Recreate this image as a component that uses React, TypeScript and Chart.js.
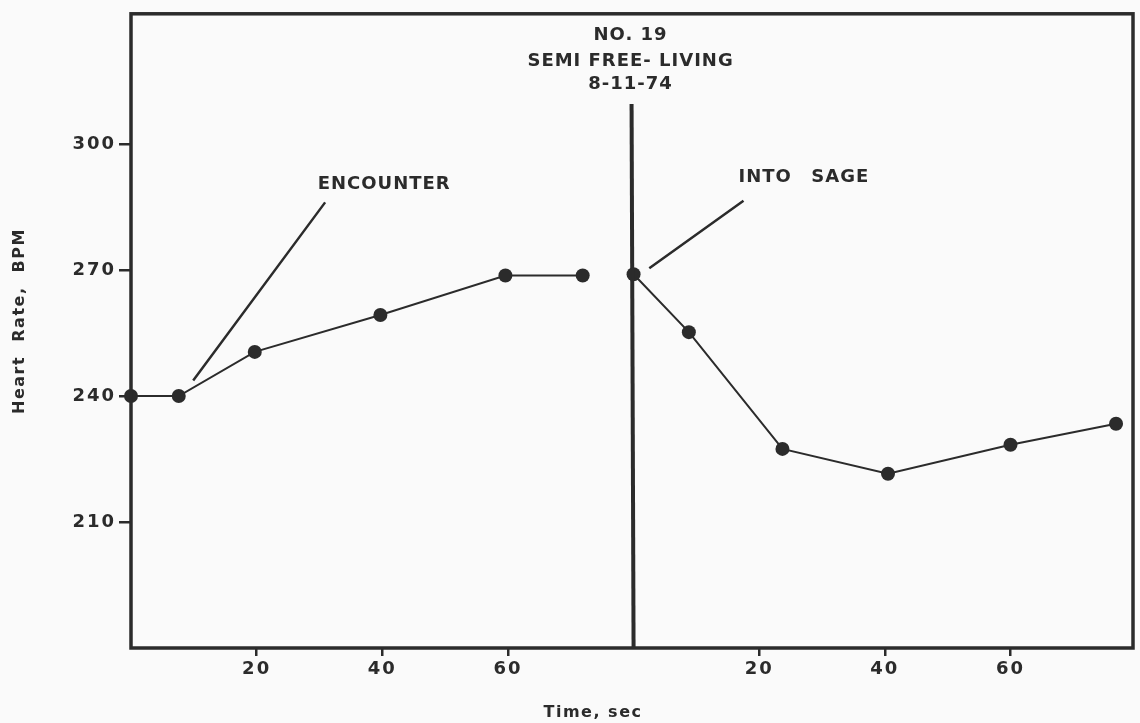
import React, { useEffect, useRef } from "react";
import { Chart, registerables } from "chart.js";

Chart.register(...registerables);

// ---- data ----
const LEFT_TIME = [0, 7.6, 19.7, 39.7, 59.6, 71.9];
const LEFT_BPM = [240, 240, 250.5, 259.3, 268.7, 268.7];
const RIGHT_TIME = [0, 8.8, 23.7, 40.5, 60, 76.8];
const RIGHT_BPM = [269, 255.2, 227.4, 221.5, 228.4, 233.4];
const PANEL_OFFSET = 80; // second panel starts here on the shared time axis
const X_MAX = 159.5;
const TIME_TICKS = [20, 40, 60];
const BPM_TICKS = [210, 240, 270, 300];
const Y_MIN = 180;
const Y_MAX = 331;
const TITLE_LINES = ["NO. 19", "SEMI FREE- LIVING", "8-11-74"];

const INK = "#2b2b2b";
const FONT = "DejaVu Sans";

export default function App() {
  const ref = useRef<HTMLCanvasElement | null>(null);

  useEffect(() => {
    document.body.style.margin = "0";
    const canvas = ref.current;
    if (!canvas) return;

    const leftPts = LEFT_TIME.map((t, i) => ({ x: t, y: LEFT_BPM[i] }));
    const rightPts = RIGHT_TIME.map((t, i) => ({ x: t + PANEL_OFFSET, y: RIGHT_BPM[i] }));

    const overlay = {
      id: "overlay",
      beforeDraw(chart: any) {
        const ctx = chart.ctx;
        ctx.save();
        ctx.fillStyle = "#fafafa";
        ctx.fillRect(0, 0, chart.width, chart.height);
        ctx.restore();
        (ctx as any).letterSpacing = "2px";
      },
      afterDraw(chart: any) {
        const ctx = chart.ctx;
        const xs = chart.scales.x;
        const ys = chart.scales.y;
        const a = chart.chartArea;
        const X = (v: number) => xs.getPixelForValue(v);
        const Y = (v: number) => ys.getPixelForValue(v);
        ctx.save();
        ctx.strokeStyle = INK;
        ctx.fillStyle = INK;
        // frame
        ctx.lineWidth = 3.5;
        ctx.strokeRect(a.left, a.top, a.right - a.left, a.bottom - a.top);
        // divider
        ctx.lineWidth = 4;
        ctx.beginPath();
        ctx.moveTo(X(PANEL_OFFSET) - 2, Y(309.5));
        ctx.lineTo(X(PANEL_OFFSET), a.bottom);
        ctx.stroke();
        // leader lines
        ctx.lineWidth = 2.5;
        ctx.beginPath();
        ctx.moveTo(X(9.9), Y(243.7));
        ctx.lineTo(X(30.9), Y(286.1));
        ctx.moveTo(X(PANEL_OFFSET + 2.5), Y(270.4));
        ctx.lineTo(X(PANEL_OFFSET + 17.5), Y(286.5));
        ctx.stroke();
        // texts
        ctx.font = `bold 18px "${FONT}"`;
        (ctx as any).letterSpacing = "1px";
        ctx.textBaseline = "middle";
        ctx.textAlign = "center";
        ctx.fillText("ENCOUNTER", X(40.3), Y(290.5));
        ctx.textAlign = "left";
        ctx.fillText("INTO", X(PANEL_OFFSET + 16.7), Y(292));
        ctx.fillText("SAGE", X(PANEL_OFFSET + 28.3), Y(292));
        ctx.textAlign = "center";
        const titleY = [325.8, 319.6, 314.1];
        TITLE_LINES.forEach((s, i) => ctx.fillText(s, X(PANEL_OFFSET) - 3, Y(titleY[i])));
        // axis titles
        ctx.font = `bold 16px "${FONT}"`;
        (ctx as any).letterSpacing = "1.5px";
        ctx.fillText("Time, sec", 593, 713);
        ctx.translate(20, 321);
        ctx.rotate(-Math.PI / 2);
        ctx.fillText("Heart  Rate,  BPM", 0, 0);
        ctx.restore();
      },
    };

    const tickFont = { family: FONT, size: 18, weight: "bold" as const };

    const chart = new Chart(canvas, {
      type: "scatter",
      data: {
        datasets: [
          {
            data: leftPts,
            showLine: true,
            borderColor: INK,
            backgroundColor: INK,
            borderWidth: 2,
            pointRadius: 7,
            pointBorderWidth: 0,
            clip: false as any,
          },
          {
            data: rightPts,
            showLine: true,
            borderColor: INK,
            backgroundColor: INK,
            borderWidth: 2,
            pointRadius: 7,
            pointBorderWidth: 0,
            clip: false as any,
          },
        ],
      },
      options: {
        animation: false,
        responsive: false,
        layout: { padding: { top: 13, right: 6, left: 0, bottom: 0 } },
        plugins: { legend: { display: false }, tooltip: { enabled: false } },
        scales: {
          x: {
            type: "linear",
            min: 0,
            max: X_MAX,
            afterBuildTicks: (s: any) => {
              s.ticks = [
                ...TIME_TICKS.map((v) => ({ value: v })),
                ...TIME_TICKS.map((v) => ({ value: v + PANEL_OFFSET })),
              ];
            },
            afterFit: (s: any) => {
              s.height = 75;
            },
            ticks: {
              autoSkip: false,
              maxRotation: 0,
              padding: 3,
              color: INK,
              font: tickFont,
              callback: (v: any) => String(v > PANEL_OFFSET ? v - PANEL_OFFSET : v),
            },
            grid: {
              drawOnChartArea: false,
              drawTicks: true,
              tickLength: 8,
              color: INK,
              lineWidth: 2.5,
            },
            border: { display: false },
          },
          y: {
            type: "linear",
            min: Y_MIN,
            max: Y_MAX,
            afterBuildTicks: (s: any) => {
              s.ticks = BPM_TICKS.map((v) => ({ value: v }));
            },
            afterFit: (s: any) => {
              s.width = 131;
            },
            ticks: {
              padding: 3,
              color: INK,
              font: tickFont,
            },
            grid: {
              drawOnChartArea: false,
              drawTicks: true,
              tickLength: 12,
              color: INK,
              lineWidth: 2.5,
            },
            border: { display: false },
          },
        },
      },
      plugins: [overlay],
    });
    return () => chart.destroy();
  }, []);

  return (
    <div style={{ position: "absolute", left: 0, top: 0, width: 1140, height: 723 }}>
      <canvas ref={ref} width={1140} height={723} style={{ width: 1140, height: 723 }} />
    </div>
  );
}
